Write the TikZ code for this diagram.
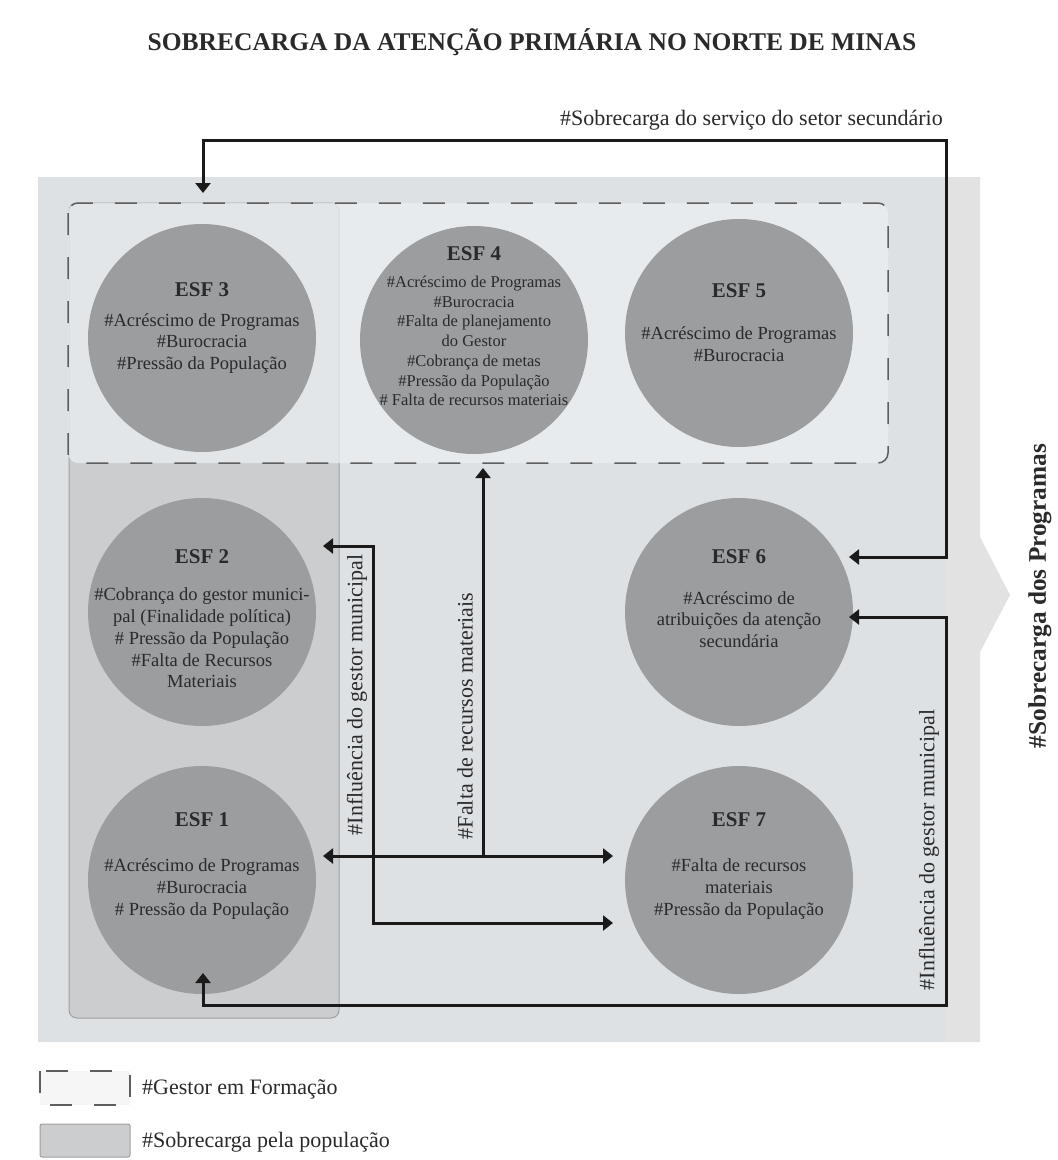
\documentclass[tikz,border=0pt]{standalone}
\usepackage{fontspec}
\setmainfont{Liberation Serif}
\usetikzlibrary{arrows.meta,calc}
\definecolor{bgOuter}{HTML}{E2E2E2}
\definecolor{bgInner}{HTML}{DEE1E4}
\definecolor{popFill}{HTML}{CBCDCF}
\definecolor{dashFill}{HTML}{ECEFF2}
\definecolor{circC}{HTML}{9B9D9F}
\definecolor{txtC}{HTML}{2A2A2A}
\definecolor{lineC}{HTML}{1A1A1A}
\definecolor{dashC}{HTML}{5E5E5E}
\tikzset{
  esf/.style={circle, fill=circC, minimum size=228pt, inner sep=0pt},
  esftitle/.style={font=\fontsize{21}{24}\selectfont\bfseries, text=txtC, inner sep=0pt, anchor=base},
  esfbody/.style={font=\fontsize{18.5}{21.7}\selectfont, text=txtC, align=center, inner sep=0pt},
  esfbodysmall/.style={font=\fontsize{16.5}{19.7}\selectfont, text=txtC, align=center, inner sep=0pt},
  tipA/.tip={Triangle[length=10pt,width=15pt]},
  conn/.style={line width=3pt, draw=lineC, tipA-tipA},
  connone/.style={line width=3pt, draw=lineC, -tipA},
  lbl/.style={font=\fontsize{22}{26}\selectfont, text=txtC, inner sep=0pt},
  dashbox/.style={draw=dashC, line width=1.5pt, dash pattern=on 22pt off 22pt, rounded corners=10pt},
  popbox/.style={draw=gray!75, line width=1pt, fill=popFill, rounded corners=8pt},
}
\begin{document}
\begin{tikzpicture}[x=1pt,y=-1pt]
\useasboundingbox[fill=white] (0,0) rectangle (1058,1160);

% title
\node[font=\fontsize{25.5}{30}\selectfont\bfseries, text=txtC, anchor=base, inner sep=0pt] (title) at (532,50) {SOBRECARGA DA ATENÇÃO PRIMÁRIA NO NORTE DE MINAS};

% background chevron and inner panel
\path[fill=bgOuter] (38,177) -- (980,177) -- (980,537) -- (1010,595) -- (980,652) -- (980,1042) -- (38,1042) -- cycle;
\path[fill=bgInner] (38,177) rectangle (946,1042);

% population box and dashed manager box
\path[popbox] (69,203) rectangle (339,1018);
\path[dashbox, fill=dashFill, fill opacity=0.74] (68,203) rectangle (888,463);

% circles
\node[esf] (esf3) at (202,338) {};
\node[esf] (esf4) at (474,340) {};
\node[esf] (esf5) at (739,333) {};
\node[esf] (esf2) at (202,612) {};
\node[esf] (esf6) at (739,612) {};
\node[esf] (esf1) at (202,880) {};
\node[esf] (esf7) at (739,880) {};

% circle texts
\node[esftitle] (esf3t) at (202,296) {ESF 3};
\node[esfbody] (esf3b) at (202,343.5) {\#Acréscimo de Programas\\\#Burocracia\\\#Pressão da População};

\node[esftitle] (esf4t) at (474,260) {ESF 4};
\node[esfbodysmall] (esf4b) at (474,341) {\#Acréscimo de Programas\\\#Burocracia\\\#Falta de planejamento\\do Gestor\\\#Cobrança de metas\\\#Pressão da População\\\# Falta de recursos materiais};

\node[esftitle] (esf5t) at (739,297) {ESF 5};
\node[esfbody] (esf5b) at (739,344) {\#Acréscimo de Programas\\\#Burocracia};

\node[esftitle] (esf2t) at (202,563) {ESF 2};
\node[esfbody] (esf2b) at (202,638) {\#Cobrança do gestor munici-\\pal (Finalidade política)\\\# Pressão da População\\\#Falta de Recursos\\Materiais};

\node[esftitle] (esf6t) at (739,563) {ESF 6};
\node[esfbody] (esf6b) at (739,619.5) {\#Acréscimo de\\atribuições da atenção\\secundária};

\node[esftitle] (esf1t) at (202,826) {ESF 1};
\node[esfbody] (esf1b) at (202,889) {\#Acréscimo de Programas\\\#Burocracia\\\# Pressão da População};

\node[esftitle] (esf7t) at (739,826) {ESF 7};
\node[esfbody] (esf7b) at (739,889) {\#Falta de recursos\\materiais\\\#Pressão da População};

% connector end coordinates
\coordinate (topin) at (203,193);
\coordinate (e6a) at (849,557);
\coordinate (e6b) at (849,617);
\coordinate (e1b) at (203,973);
\coordinate (e2r) at (323,546);
\coordinate (e7b) at (613,923);
\coordinate (e1r) at (323,856);
\coordinate (e7a) at (613,856);
\coordinate (fj) at (483,856);
\coordinate (dashin) at (483,468);

% connectors
\draw[conn] (e6a) -- (946,557) -- (946,140) -- (203,140) -- (topin);
\draw[conn] (e6b) -- (946,617) -- (946,1005) -- (203,1005) -- (e1b);
\draw[conn] (e2r) -- (373,546) -- (373,923) -- (e7b);
\draw[conn] (e1r) -- (e7a);
\draw[connone] (fj) -- (dashin);

% connector labels
\node[lbl, anchor=base east] (lsec) at (943,125) {\#Sobrecarga do serviço do setor secundário};
\node[lbl, rotate=90] (linf1) at (357,695) {\#Influência do gestor municipal};
\node[lbl, rotate=90] (lfalta) at (465,716) {\#Falta de recursos materiais};
\node[lbl, rotate=90] (linf2) at (929,850) {\#Influência do gestor municipal};

% side label
\node[font=\fontsize{25.3}{30}\selectfont\bfseries, text=txtC, inner sep=0pt, rotate=90] (lprog) at (1040,596) {\#Sobrecarga dos Programas};

% legend
\path[dashbox, rounded corners=0pt, fill=gray!7] (40,1071) rectangle (130,1105);
\node[lbl, anchor=west] (leg1) at (142,1089) {\#Gestor em Formação};
\path[popbox, rounded corners=2pt] (40,1124) rectangle (130,1157);
\node[lbl, anchor=west] (leg2) at (142,1142) {\#Sobrecarga pela população};
\end{tikzpicture}
\end{document}
